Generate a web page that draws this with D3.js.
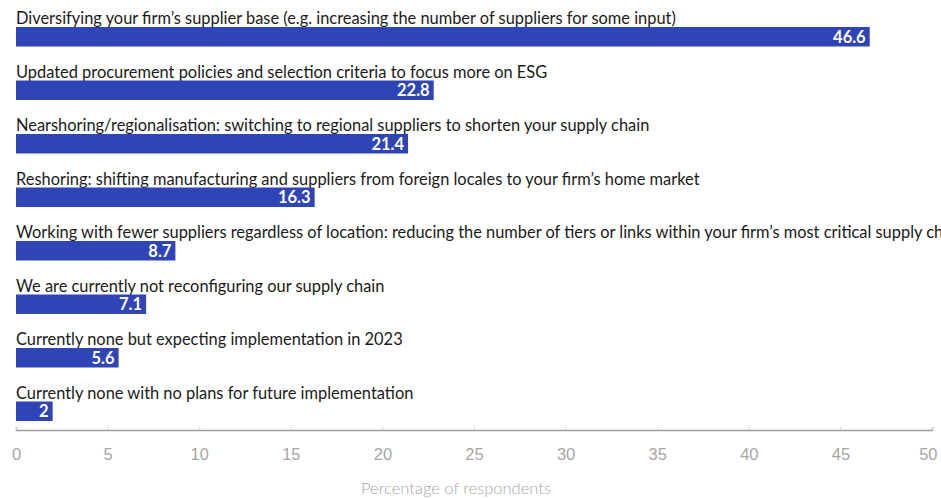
<!DOCTYPE html>
<html lang="en">
<head>
    <meta charset="UTF-8">
    <title>Supply chain reconfiguration</title>
    <script src="https://d3js.org/d3.v7.min.js"></script>
    <style>
        body { margin: 0; background: #fff; font-family: Lato, "Open Sans", sans-serif; }
        .label { fill: #1a1a1a; font-size: 16.4px; }
        .value { fill: #fff; font-size: 16.5px; font-weight: bold; }
        .tick text { fill: #a6a6a6; font-size: 16.5px; font-weight: 300; }
    </style>
</head>
<body>
<div id="chart"></div>
<script>
    // Data
    const categories = [
        "Diversifying your firm\u2019s supplier base (e.g. increasing the number of suppliers for some input)",
        "Updated procurement policies and selection criteria to focus more on ESG",
        "Nearshoring/regionalisation: switching to regional suppliers to shorten your supply chain",
        "Reshoring: shifting manufacturing and suppliers from foreign locales to your firm\u2019s home market",
        "Working with fewer suppliers regardless of location: reducing the number of tiers or links within your firm\u2019s most critical supply chain",
        "We are currently not reconfiguring our supply chain",
        "Currently none but expecting implementation in 2023",
        "Currently none with no plans for future implementation"
    ];
    const values = [46.6, 22.8, 21.4, 16.3, 8.7, 7.1, 5.6, 2];
    const xTicks = [0, 5, 10, 15, 20, 25, 30, 35, 40, 45, 50];
    const axisTitle = "Percentage of respondents";

    const W = 941, H = 499;
    const svg = d3.select("#chart").append("svg")
        .attr("width", W)
        .attr("height", H);

    const x = d3.scaleLinear().domain([0, 50]).range([16, 932]);

    // each row: label line + bar
    const y = d3.scaleBand()
        .domain(d3.range(categories.length))
        .range([8, 436])
        .paddingInner(0)
        .paddingOuter(0);

    const barH = 19.5;
    const rows = svg.selectAll(".row")
        .data(values)
        .enter().append("g")
        .attr("class", "row")
        .attr("transform", (d, i) => `translate(0,${y(i)})`);

    rows.append("text")
        .attr("class", "label")
        .attr("x", x(0))
        .attr("y", 16)
        .text((d, i) => categories[i]);

    rows.append("rect")
        .attr("x", x(0))
        .attr("y", 19)
        .attr("width", d => x(d) - x(0))
        .attr("height", barH)
        .attr("fill", "#2f45b5");

    rows.append("text")
        .attr("class", "value")
        .attr("x", d => x(d) - 4)
        .attr("y", 19 + barH / 2)
        .attr("dy", "0.36em")
        .attr("text-anchor", "end")
        .text(d => d);

    // x axis
    const axis = svg.append("g")
        .attr("transform", "translate(0,430)")
        .call(d3.axisBottom(x).tickValues(xTicks).tickSize(-3).tickPadding(18));
    axis.select(".domain").attr("stroke", "#a0a0a0").attr("stroke-width", 1.5);
    axis.selectAll(".tick line").attr("stroke", "#d0d0d0");
    axis.selectAll(".tick text").attr("font-family", null).attr("font-size", null);
    axis.selectAll(".tick text").filter(d => d === 50).attr("text-anchor", "end").attr("dx", 5);

    svg.append("text")
        .attr("x", 456)
        .attr("y", 494)
        .attr("text-anchor", "middle")
        .attr("fill", "#a6a6a6")
        .attr("font-size", 16.5)
        .attr("font-weight", 300)
        .text(axisTitle);
</script>
</body>
</html>
